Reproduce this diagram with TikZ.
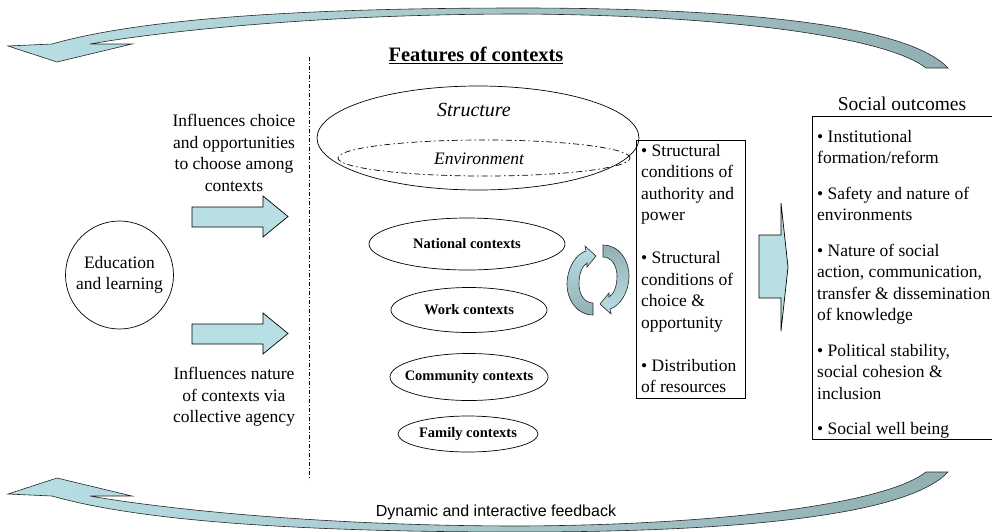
\documentclass[tikz,border=0pt]{standalone}
\usepackage{fontspec}
\setmainfont{Liberation Serif}
\newfontfamily\arialf{Liberation Sans}
\usetikzlibrary{shapes.geometric}
\definecolor{lightc}{RGB}{184,223,228}
\definecolor{darkc}{RGB}{146,176,180}
\begin{document}
\begin{tikzpicture}[x=1pt,y=-1pt,
  body/.style={font=\fontsize{17.5}{21.5}\selectfont, inner sep=0pt},
  ctxshape/.style={ellipse, draw, line width=0.7pt, inner sep=0pt},
  ctxtext/.style={inner sep=0pt, font=\bfseries\fontsize{14.5}{17}\selectfont},
  blockarrow/.style={fill=lightc, draw=black, line width=0.7pt},
  bigcurve/.style={left color=lightc, right color=darkc, draw=black!85, line width=0.6pt},
  frame/.style={draw, line width=0.8pt, inner sep=0pt},
]
\useasboundingbox (0,0) rectangle (992,531);

% top feedback arrow
\shade[bigcurve] (8,46) -- (52,44) .. controls (150,16) and (330,8) .. (520,8)
  .. controls (720,8) and (905,22) .. (948,68) -- (926,68)
  .. controls (885,36) and (720,15) .. (520,14)
  .. controls (330,14) and (170,30) .. (90,44) -- (132,44) -- (57,62) -- cycle;
% bottom feedback arrow
\shade[bigcurve] (8,494) -- (52,496) .. controls (150,524) and (330,532) .. (520,532)
  .. controls (720,532) and (905,518) .. (948,472) -- (926,472)
  .. controls (885,504) and (720,525) .. (520,526)
  .. controls (330,526) and (170,510) .. (90,496) -- (132,496) -- (57,478) -- cycle;
\node[font=\arialf\fontsize{16}{19}\selectfont, inner sep=0pt] (fb) at (496,512) {Dynamic and interactive feedback};

% dashed divider
\coordinate (dtop) at (309,57);
\coordinate (dbot) at (309,480);
\draw[line width=0.6pt, dash pattern=on 4pt off 2pt on 1pt off 2pt] (dtop) -- (dbot);

% left part
\node[circle, draw, line width=0.7pt, minimum size=108pt, body, align=center] (edu) at (119.5,275) {Education\\and learning};
\node[body, align=center] (infl1) at (234,153) {Influences choice\\and opportunities\\to choose among\\contexts};
\node[body, align=center] (infl2) at (234,397) {Influences nature\\of contexts via\\collective agency};
\filldraw[blockarrow] (192,207) -- (263,207) -- (263,196) -- (288,216.5) -- (263,237) -- (263,227) -- (192,227) -- cycle;
\filldraw[blockarrow] (192,324) -- (263,324) -- (263,313) -- (288,333.5) -- (263,354) -- (263,344) -- (192,344) -- cycle;

% features
\node[font=\bfseries\fontsize{20.5}{24}\selectfont, inner sep=0pt] (feat) at (476,55) {\underline{Features of contexts}};
\node[ellipse, draw, line width=0.7pt, minimum width=322pt, minimum height=104pt, inner sep=0pt] (struct) at (478,138) {};
\node[font=\itshape\fontsize{20}{24}\selectfont, inner sep=0pt] (structt) at (474,110) {Structure};
\node[ellipse, draw, line width=0.7pt, dash pattern=on 6pt off 3pt on 1.5pt off 3pt, minimum width=292pt, minimum height=36pt, inner sep=0pt] (env) at (484,158) {};
\node[font=\itshape\fontsize{17.5}{20}\selectfont, inner sep=0pt] (envt) at (479,159) {Environment};

\node[ctxshape, minimum width=196pt, minimum height=52pt] (nat) at (467,244) {};
\node[ctxtext] (natt) at (nat.center) {National contexts};
\node[ctxshape, minimum width=156pt, minimum height=45pt] (work) at (469,310) {};
\node[ctxtext] (workt) at (work.center) {Work contexts};
\node[ctxshape, minimum width=158pt, minimum height=47pt] (comm) at (469,377) {};
\node[ctxtext] (commt) at (comm.center) {Community contexts};
\node[ctxshape, minimum width=140pt, minimum height=36pt] (fam) at (468,434) {};
\node[ctxtext] (famt) at (fam.center) {Family contexts};

% cycle arrows
\shade[top color=lightc, bottom color=darkc, draw=black!85, line width=0.6pt]
  (593,315) .. controls (577,315) and (567,300) .. (567,284)
  .. controls (567,268) and (576,254) .. (586,251) -- (585,246) -- (596,256) -- (587,267) -- (587,263)
  .. controls (582,266) and (579,274) .. (579,284)
  .. controls (579,295) and (585,303) .. (593,303) -- cycle;
\shade[top color=darkc, bottom color=lightc, draw=black!85, line width=0.6pt]
  (603,245) .. controls (619,245) and (629,260) .. (629,276)
  .. controls (629,292) and (620,306) .. (610,309) -- (611,314) -- (600,304) -- (609,293) -- (609,297)
  .. controls (614,294) and (617,286) .. (617,276)
  .. controls (617,265) and (611,257) .. (603,257) -- cycle;

% conditions box
\node[frame, minimum width=109pt, minimum height=258pt, anchor=north west] (condbox) at (636,140) {};
\node[body, align=left, anchor=north west] (condt) at (641,144) {• Structural\\conditions of\\authority and\\power\\[21.5pt]• Structural\\conditions of\\choice \&\\opportunity\\[21.5pt]• Distribution\\of resources};

% big arrow
\filldraw[blockarrow] (759,235) -- (781,235) -- (781,203) -- (788,267) -- (781,331) -- (781,298) -- (759,298) -- cycle;

% outcomes
\node[font=\fontsize{19.5}{23}\selectfont, inner sep=0pt] (outh) at (902,104) {Social outcomes};
\node[frame, minimum width=184pt, minimum height=323pt, anchor=north west] (outbox) at (812,116) {};
\node[body, align=left, anchor=north west] (outt) at (817,130) {• Institutional\\formation/reform\\[14pt]• Safety and nature of\\environments\\[14pt]• Nature of social\\action, communication,\\transfer \& dissemination\\of knowledge\\[14pt]• Political stability,\\social cohesion \&\\inclusion\\[14pt]• Social well being};
\end{tikzpicture}
\end{document}
